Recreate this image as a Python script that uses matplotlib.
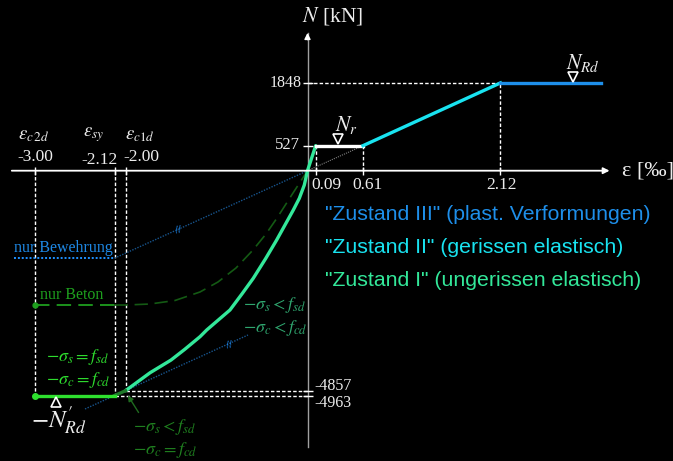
import matplotlib.pyplot as plt
import numpy as np
from matplotlib.transforms import offset_copy

plt.rcParams['font.family'] = ['Liberation Serif', 'DejaVu Serif']
plt.rcParams['mathtext.fontset'] = 'stix'

# Dehnungen [‰] und Normalkräfte [kN]
eps_r, eps_r2, eps_y, eps_end = 0.09, 0.61, 2.12, 3.23
N_r, N_Rd = 527, 1848
eps_c2d, eps_sy, eps_c1d = -3.00, -2.12, -2.00
N_c1d, N_Rd_neg = -4857, -4963

z1_eps = [0.09, 0.0, -0.035, -0.09, -0.156, -0.339, -0.46, -0.596, -0.72, -0.852,
          -1.00, -1.108, -1.181, -1.35, -1.50, -1.73, -2.00]
z1_N = [527, 0, -316, -610, -868, -1530, -1940, -2375, -2720, -3075,
        -3330, -3517, -3664, -3945, -4180, -4460, -4857]

# nur Beton
beton_eps = [-3.00, -2.12, -1.995, -1.731, -1.456, -1.181, -0.984, -0.786, -0.599, -0.456, -0.335, -0.159, 0.0]
beton_N = [-2965, -2965, -2965, -2943, -2865, -2677, -2457, -2148, -1751, -1397, -1044, -492, 0]

# nur Bewehrung
stahl_eps = [-3.225, -2.12, 0.0]
stahl_N = [-1930, -1930, 0]
# Parallele zur Stahlgeraden durch den Knick bei eps_c1d
par_eps = [-2.445, -0.654]
par_N = [-5260, -3627]

W, H = 673, 461
fig = plt.figure(figsize=(W / 100, H / 100), dpi=100, facecolor='black')
ax = fig.add_axes([0, 0, 1, 1])
ax.set_facecolor('black')
ax.set_axis_off()

# Zug- und Druckseite mit leicht verschiedenem Massstab
kpos, kneg = 0.0475, 0.0453
def fwd(n):
    n = np.asarray(n, float)
    return np.where(n >= 0, n * kpos, n * kneg)
def inv(p):
    p = np.asarray(p, float)
    return np.where(p >= 0, p / kpos, p / kneg)
ax.set_yscale('function', functions=(fwd, inv))

c3, c2, c1 = '#1E8FEA', '#19E3F0', '#33E89A'
guide = dict(color='white', lw=1, ls=(0, (2.5, 1.5)))

# Hilfslinien
ax.plot([eps_c2d, eps_c2d], [0, N_Rd_neg], **guide)
ax.plot([eps_sy, eps_sy], [0, N_Rd_neg], **guide)
ax.plot([eps_c1d, eps_c1d], [0, N_c1d], **guide)
ax.plot([eps_c1d, 0], [N_c1d, N_c1d], **guide)
ax.plot([eps_sy, 0], [N_Rd_neg, N_Rd_neg], **guide)
ax.plot([eps_r, eps_r], [0, N_r], **guide)
ax.plot([eps_r2, eps_r2], [0, N_r], **guide)
ax.plot([eps_y, eps_y], [0, N_Rd], **guide)
ax.plot([0, eps_y], [N_Rd, N_Rd], **guide)

# Achsen
ax.plot([0, 0], [-6090, 2900], color='#a0a0a0', lw=1)
ax.annotate('', xy=(0, 2960), xytext=(0, 2700),
            arrowprops=dict(arrowstyle='-|>', color='white', lw=1, mutation_scale=9))
ax.annotate('', xy=(3.35, 0), xytext=(-3.28, 0),
            arrowprops=dict(arrowstyle='-|>', color='white', lw=1.3, mutation_scale=9))
for e in [eps_c2d, eps_sy, eps_c1d, eps_r, eps_r2, eps_y]:
    ax.plot(e, 0, marker='|', color='white', ms=6, mew=1)
for n in [N_r, N_Rd, N_c1d, N_Rd_neg]:
    ax.plot(0, n, marker='_', color='white', ms=7, mew=1)

# nur Bewehrung / nur Beton
ax.plot(stahl_eps[:2], stahl_N[:2], color='#1E90FF', lw=1.4, ls=(0, (1, 1)))
ax.plot(stahl_eps[1:], stahl_N[1:], color='#17548C', lw=1, ls=(0, (1, 1)))
ax.plot(par_eps, par_N, color='#17548C', lw=1, ls=(0, (1, 1)))
ax.plot([0, eps_r2], [0, N_r], color='#808080', lw=0.8, ls=(0, (1, 1)))
ax.plot(beton_eps[:2], beton_N[:2], color='#1E9E1E', lw=1.3, ls=(0, (8, 4)))
ax.plot(beton_eps[1:], beton_N[1:], color='#145A14', lw=1.2, ls=(0, (8, 4)))
ax.plot(beton_eps[0], beton_N[0], 'o', color='#1E9E1E', ms=3.5)

# Zustände
ax.plot(z1_eps, z1_N, color=c1, lw=2.4, solid_capstyle='round', solid_joinstyle='round')
ax.plot([eps_sy, eps_c1d], [N_Rd_neg, N_c1d], color='#1F7A2A', lw=2.4)
ax.plot([eps_c2d, eps_sy], [N_Rd_neg, N_Rd_neg], color='#2EE02E', lw=2.4)
ax.plot(eps_c2d, N_Rd_neg, 'o', color='#2EE02E', ms=4)
ax.plot([eps_r, eps_r2], [N_r, N_r], color='white', lw=2.4)
ax.plot([eps_r2, eps_y], [N_r, N_Rd], color=c2, lw=2.4)
ax.plot([eps_y, eps_end], [N_Rd, N_Rd], color=c3, lw=2.4)

# Dreiecke an N_r, N_Rd und -N'_Rd
up = offset_copy(ax.transData, fig=fig, y=4.5, units='points')
dn = offset_copy(ax.transData, fig=fig, y=-4.5, units='points')
tri = dict(mfc='black', mec='white', mew=1.2, ms=7)
ax.plot(0.34, N_r, marker='v', transform=up, **tri)
ax.plot(2.92, N_Rd, marker='v', transform=up, **tri)
ax.plot(-2.76, N_Rd_neg, marker='^', transform=dn, **tri)

# Parallelzeichen
for e, n in [(-1.42, -1310), (-0.86, -3840)]:
    ax.text(e, n, '//', color='#1E90FF', fontsize=6, ha='center', va='center',
            family='DejaVu Sans', rotation=10)

# Pfeil zum Knick
ax.annotate('', xy=(-1.99, -4910), xytext=(-1.84, -5390),
            arrowprops=dict(arrowstyle='-|>', color='#1F6B1F', lw=1, mutation_scale=8))

ax.set_xlim(-307.5 / 91, (W - 307.5) / 91)
ax.set_ylim(-(H - 170.7) / kneg, 170.7 / kpos)

def txt(x, y, s, ha='center', va='center', **kw):
    ax.text(x / W, 1 - y / H, s, ha=ha, va=va, transform=ax.transAxes, **kw)

wt = '#ececec'
txt(333, 16, r'$N$ [kN]', size=15.5, color=wt)
txt(622, 171, 'ε [‰]', ha='left', size=16, color=wt)
txt(302, 83, '1848', ha='right', size=11.5, color=wt)
txt(300, 145, '527', ha='right', size=12, color=wt)
txt(314, 386, '-4857', ha='left', size=11.5, color=wt)
txt(314, 403, '-4963', ha='left', size=11.5, color=wt)
txt(326, 185, '0.09', size=12.5, color=wt)
txt(367.5, 185, '0.61', size=12.5, color=wt)
txt(501.7, 185, '2.12', size=12.5, color=wt)
txt(35, 157, '-3.00', size=12.5, color=wt)
txt(100, 159.5, '-2.12', size=12.5, color=wt)
txt(141.7, 157, '-2.00', size=12.5, color=wt)
txt(18, 135, r'$\varepsilon_{c\,2d}$', ha='left', size=13.5, color=wt)
txt(83, 135, r'$\varepsilon_{sy}$', ha='left', size=13.5, color=wt)
txt(125, 135, r'$\varepsilon_{c1d}$', ha='left', size=13.5, color=wt)
txt(335, 125, r'$N_r$', ha='left', size=15.5, color=wt)
txt(566, 63, r'$N_{Rd}$', ha='left', size=15.5, color=wt)
txt(31, 420, r"$-N^{\prime}_{Rd}$", ha='left', size=18, color=wt)

txt(14, 248, 'nur Bewehrung', ha='left', size=11.5, color='#1E88E5')
txt(40, 295, 'nur Beton', ha='left', size=11.5, color='#1EA01E')

txt(243, 305, r'$-\sigma_s < f_{sd}$', ha='left', size=13, color='#2FA56E')
txt(243, 328, r'$-\sigma_c < f_{cd}$', ha='left', size=13, color='#2FA56E')
txt(46, 357, r'$-\sigma_s = f_{sd}$', ha='left', size=13, color='#2EDC2E')
txt(46, 380, r'$-\sigma_c = f_{cd}$', ha='left', size=13, color='#2EDC2E')
txt(133, 427, r'$-\sigma_s < f_{sd}$', ha='left', size=13, color='#1F7F1F')
txt(133, 450, r'$-\sigma_c = f_{cd}$', ha='left', size=13, color='#1F7F1F')

sans = dict(ha='left', size=15.3, family='Liberation Sans')
txt(325, 215, '"Zustand III" (plast. Verformungen)', color=c3, **sans)
txt(325, 247.5, '"Zustand II" (gerissen elastisch)', color=c2, **sans)
txt(325, 280, '"Zustand I" (ungerissen elastisch)', color=c1, **sans)

fig.savefig('out.png', dpi=100, facecolor='black')
